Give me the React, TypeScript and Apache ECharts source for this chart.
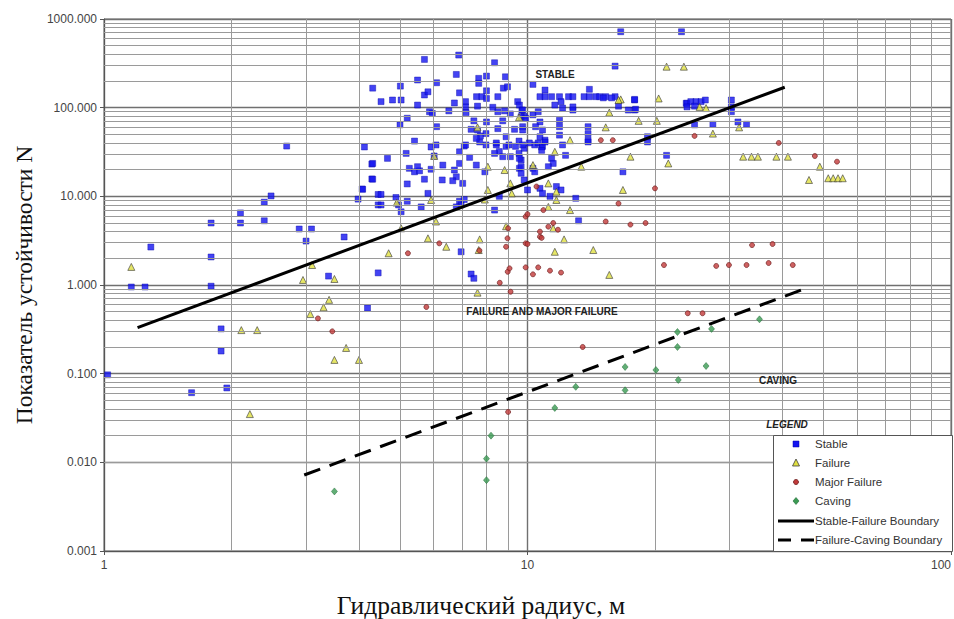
import React, { useEffect, useRef } from "react";
import * as echarts from "echarts";

// ---- Data (x = hydraulic radius, m ; y = stability number N) ----
const stablePoints: [number, number][] = [
  [1.02, 0.097], [1.16, 0.95], [1.25, 0.95], [1.29, 2.68], [1.61, 0.061], [1.79, 5.0], [1.79, 2.07],
  [1.79, 0.97], [1.89, 0.32], [1.89, 0.18], [1.95, 0.069], [2.1, 6.5], [2.1, 5.0], [2.39, 8.6],
  [2.39, 5.3], [2.48, 10.1], [2.7, 36.9], [2.89, 4.28], [3.09, 4.28], [3.0, 3.13], [3.39, 1.26],
  [3.69, 3.48], [4.19, 0.55], [4.44, 1.37], [3.98, 9.3], [4.07, 12.1], [4.29, 23.1], [4.29, 15.7],
  [4.44, 10.5], [4.44, 8.0],
  [4.12, 36], [4.31, 23.5], [4.67, 26.8], [4.31, 15.6], [4.08, 12.0], [4.51, 10.5], [4.51, 8.0],
  [4.89, 9.7], [4.96, 8.0], [5.03, 6.7], [5.2, 13.8], [5.2, 8.8], [5.61, 7.6], [5.82, 10.8],
  [5.71, 15.6], [5.26, 20.7], [5.41, 18.9], [5.56, 19.4], [5.5, 21.6], [5.92, 20.2], [5.17, 30.5],
  [5.92, 36], [6.02, 28.5], [6.31, 22.5], [6.29, 15.3], [6.72, 19.8], [6.79, 16.6], [6.91, 23.5],
  [6.91, 31.8], [7.09, 36.9], [7.3, 27.5], [7.57, 22.5], [7.03, 14.0], [6.66, 15.0], [7.71, 41],
  [8.44, 38], [8.58, 32], [8.9, 36.6], [8.74, 28], [7.93, 18.9], [9.57, 20.7], [9.66, 18.2],
  [9.66, 25.7], [9.55, 30.5], [9.37, 36.6], [9.82, 34.8], [6.91, 8.8], [6.97, 8.0], [7.09, 9.2],
  [6.79, 7.6], [8.36, 7.0], [8.58, 10], [6.97, 2.37], [7.36, 1.33], [7.47, 1.19], [8.36, 30.5], [9.11, 28],
  [6.88, 392], [5.71, 350], [8.36, 321], [6.79, 237], [5.5, 205], [6.1, 191], [7.67, 214], [7.67, 188],
  [8.0, 227], [8.87, 223], [4.31, 166], [5.01, 175], [6.91, 147], [8.0, 155], [8.77, 166], [8.97, 172],
  [5.71, 139], [5.82, 151], [4.8, 122], [5.03, 122], [4.51, 117], [7.58, 133], [7.8, 133], [8.0, 127],
  [7.14, 117], [7.14, 102], [8.51, 133], [9.48, 117], [6.72, 113], [5.5, 107], [6.52, 92], [5.87, 90],
  [5.96, 86], [7.16, 88], [7.62, 104], [8.28, 101], [8.51, 90], [8.83, 92], [9.11, 85], [9.7, 94],
  [9.82, 80], [5.2, 76], [5.0, 64], [6.1, 61], [7.47, 71], [8.0, 69], [8.74, 71], [7.36, 57], [7.62, 56],
  [7.74, 48], [7.98, 51], [7.57, 45], [8.51, 58], [8.9, 47], [9.32, 57], [9.74, 61], [5.41, 42],
  [6.08, 38], [7.98, 38], [8.44, 40], [9.04, 38], [9.55, 42], [7.14, 38],
  [16.6, 718], [23.1, 718], [16.1, 294], [10.3, 183], [11.0, 158], [14.0, 161],
  [10.7, 133], [11.0, 133], [11.4, 133], [11.9, 133], [12.5, 133], [12.8, 133], [13.6, 133], [14.0, 133],
  [14.5, 133], [14.8, 133], [15.3, 133], [16.1, 133], [15.1, 129], [15.8, 129],
  [17.9, 122], [23.7, 112], [11.6, 107], [12.0, 117], [12.1, 99], [12.8, 102], [12.8, 94], [16.4, 104],
  [17.3, 94], [17.9, 94], [18.0, 96], [17.9, 124],
  [11.9, 72], [11.9, 61], [11.9, 49], [13.9, 61], [13.9, 51], [13.9, 43], [19.2, 47], [19.2, 41], [12.1, 38],
  [9.57, 107], [9.74, 94], [9.66, 79], [9.9, 76], [10.3, 83], [10.6, 90], [10.7, 69], [10.45, 61],
  [10.85, 56], [10.7, 47], [9.74, 56], [11.0, 43], [10.4, 38], [10.8, 36],
  [9.74, 38], [10.1, 40], [10.6, 40], [10.85, 36.6], [10.8, 33], [11.0, 41], [12.3, 29], [11.4, 26.8],
  [11.5, 23.5], [11.2, 21.6], [10.3, 20.7], [10.4, 18.9], [9.66, 21.6], [9.57, 26.8], [9.82, 15.3],
  [10.0, 11.8], [10.7, 12.3], [10.85, 10.8], [11.3, 10.0], [11.7, 12.9], [12.0, 11.8], [13.0, 9.5],
  [13.9, 41], [16.8, 18.9], [21.3, 29], [13.2, 5.3],
  [23.8, 112], [24.3, 117], [25.0, 117], [25.7, 117], [26.3, 122], [23.8, 102], [24.8, 104],
  [30.3, 122], [30.3, 102], [30.3, 90], [24.8, 64], [27.4, 65], [31.4, 69], [32.9, 65],
];

const failurePoints: [number, number][] = [
  [1.16, 1.6], [2.95, 1.14], [3.1, 1.68], [3.5, 1.17], [2.11, 0.31], [2.3, 0.31], [3.07, 0.47],
  [3.3, 0.56], [3.4, 0.68], [3.73, 0.195], [3.5, 0.143], [4.0, 0.143], [2.21, 0.035],
  [4.91, 8.5], [5.92, 9.1], [6.02, 28.5], [8.06, 21.6], [8.83, 19.8], [8.06, 11.8], [7.93, 9.2],
  [9.11, 14], [9.18, 10.8], [8.9, 4.6], [6.08, 5.2], [5.03, 4.36], [5.82, 3.36], [6.43, 2.7],
  [7.67, 2.48], [7.71, 3.27], [4.7, 2.28], [7.62, 0.82], [9.55, 78], [7.62, 60],
  [16.6, 124], [20.4, 127], [21.3, 290], [23.4, 290], [15.6, 88], [18.3, 71], [20.2, 71], [15.3, 60],
  [12.6, 43], [16.4, 122], [25.5, 102], [26.4, 99], [31.6, 60], [27.4, 51],
  [21.5, 23.5], [17.5, 28], [13.4, 21.6], [11.6, 31.8], [10.3, 22.5], [11.2, 14.0], [11.7, 9.1],
  [12.6, 7.0], [16.8, 11.8], [11.6, 2.37], [14.3, 2.48], [12.2, 3.27], [11.5, 4.36], [15.6, 1.3],
  [11.2, 7.6], [11.7, 11.3],
  [32.3, 28], [33.8, 28], [35.0, 28], [38.7, 28], [41.2, 28],
  [49.0, 21.6], [46.2, 15.3], [51.3, 16], [52.7, 16], [54.1, 16], [55.5, 16],
];

const majorFailurePoints: [number, number][] = [
  [3.2, 0.42], [3.46, 0.3], [5.77, 0.565], [13.5, 0.2], [9.0, 0.037], [23.9, 0.48], [25.9, 0.48],
  [6.19, 2.95], [8.97, 3.36], [8.9, 2.7], [5.22, 2.28], [9.9, 5.9], [9.9, 2.95], [7.7, 2.45], [9.0, 4.36],
  [14.9, 43], [15.9, 43], [10.5, 12.9], [20.0, 12.3], [16.4, 8.3], [15.3, 5.2], [17.5, 4.8], [19.0, 5.0],
  [10.9, 7.0], [10.0, 6.3], [11.5, 5.0], [11.8, 4.2], [10.7, 4.0], [10.7, 3.5], [10.8, 3.4], [10.0, 2.9],
  [11.2, 4.55],
  [21.0, 1.68], [27.9, 1.64], [29.9, 1.68], [32.9, 1.68], [37.1, 1.77], [42.3, 1.68], [33.9, 2.82], [37.9, 2.9],
  [12.0, 1.38], [11.3, 1.45], [10.6, 1.58], [10.3, 1.32], [9.9, 1.58], [9.12, 0.84], [8.6, 1.06],
  [8.98, 1.41], [9.07, 1.54],
  [24.8, 48], [39.2, 40], [47.7, 28.5], [53.8, 24.6],
];

const cavingPoints: [number, number][] = [
  [3.5, 0.0047], [8.0, 0.0063], [8.0, 0.011], [8.2, 0.02], [11.6, 0.041], [13.0, 0.071], [17.0, 0.119],
  [17.0, 0.065], [20.1, 0.11], [22.7, 0.085], [22.6, 0.2], [22.6, 0.295], [26.4, 0.122], [27.2, 0.32],
  [35.3, 0.41],
];

const stableFailureBoundary: [number, number][] = [[1.2, 0.33], [40.5, 170]];
const failureCavingBoundary: [number, number][] = [[2.97, 0.0072], [44.4, 0.88]];

const xDecades = [1, 10];
const yDecades = [0.001, 0.01, 0.1, 1, 10, 100];
const minorMantissas = [2, 3, 4, 5, 6, 7, 8, 9];

const legendLabels = [
  "Stable",
  "Failure",
  "Major Failure",
  "Caving",
  "Stable-Failure Boundary",
  "Failure-Caving Boundary",
];

const xTitle = "Гидравлический радиус, м";
const yTitle = "Показатель устойчивости N";

const COLORS = {
  stable: "#1414f0",
  stableBorder: "#0000a8",
  failure: "#e0e040",
  failureBorder: "#3c3c3c",
  major: "#c23a3a",
  majorBorder: "#6a1a1a",
  caving: "#3a9a52",
  cavingBorder: "#1f6a35",
};

export default function App() {
  const ref = useRef<HTMLDivElement>(null);

  useEffect(() => {
    if (!ref.current) return;
    const chart = echarts.init(ref.current, null, { renderer: "svg" });

    const xMinor: number[] = [];
    xDecades.forEach((d) => minorMantissas.forEach((m) => xMinor.push(+(d * m).toPrecision(3))));
    const yMinor: number[] = [];
    yDecades.forEach((d) => minorMantissas.forEach((m) => yMinor.push(+(d * m).toPrecision(3))));

    const sans = '"Liberation Sans", Arial, sans-serif';
    const serif = '"Liberation Serif", "Times New Roman", serif';

    // Hand-built legend box (Excel style)
    const lgX = 773;
    const lgY = 435;
    const lgW = 179;
    const lgH = 116;
    const rowY = [444, 463, 482, 501, 521, 540];
    const iconCx = 796;
    const textX = 815;
    const legendText = legendLabels.map((t, i) => ({
      type: "text",
      x: textX,
      y: rowY[i],
      z: 101,
      style: { text: t, font: `11.5px ${sans}`, fill: "#333", align: "left", verticalAlign: "middle" },
    }));
    const legendGroup = [
      {
        type: "rect",
        z: 100,
        shape: { x: lgX + 0.5, y: lgY + 0.5, width: lgW, height: lgH },
        style: { fill: "#ffffff", stroke: "#555", lineWidth: 1 },
      },
      {
        type: "rect",
        z: 101,
        shape: { x: iconCx - 3, y: rowY[0] - 3, width: 6, height: 6 },
        style: { fill: COLORS.stable, stroke: COLORS.stableBorder, lineWidth: 0.5 },
      },
      {
        type: "polygon",
        z: 101,
        shape: { points: [[iconCx, rowY[1] - 4], [iconCx + 3.5, rowY[1] + 3], [iconCx - 3.5, rowY[1] + 3]] },
        style: { fill: COLORS.failure, stroke: COLORS.failureBorder, lineWidth: 0.8 },
      },
      {
        type: "circle",
        z: 101,
        shape: { cx: iconCx, cy: rowY[2], r: 2.5 },
        style: { fill: COLORS.major, stroke: COLORS.majorBorder, lineWidth: 0.8 },
      },
      {
        type: "polygon",
        z: 101,
        shape: { points: [[iconCx, rowY[3] - 3.5], [iconCx + 3, rowY[3]], [iconCx, rowY[3] + 3.5], [iconCx - 3, rowY[3]]] },
        style: { fill: COLORS.caving, stroke: COLORS.cavingBorder, lineWidth: 0.6 },
      },
      {
        type: "line",
        z: 101,
        shape: { x1: 778, y1: rowY[4], x2: 814, y2: rowY[4] },
        style: { stroke: "#000", lineWidth: 3 },
      },
      {
        type: "line",
        z: 101,
        shape: { x1: 778, y1: rowY[5], x2: 814, y2: rowY[5] },
        style: { stroke: "#000", lineWidth: 3, lineDash: [13, 10] },
      },
      ...legendText,
    ];

    chart.setOption({
      animation: false,
      backgroundColor: "#ffffff",
      grid: {
        left: 104,
        top: 19,
        right: 2,
        bottom: 68,
        show: true,
        borderColor: "#666",
        borderWidth: 1,
        backgroundColor: "#ffffff",
      },
      xAxis: {
        type: "log",
        logBase: 10,
        min: 1,
        max: 100,
        axisLine: { lineStyle: { color: "#555", width: 1 } },
        axisTick: { show: true, length: 4, lineStyle: { color: "#555" } },
        axisLabel: {
          color: "#444",
          fontFamily: sans,
          fontSize: 12,
          margin: 8,
          alignMaxLabel: "right",
          formatter: (v: number) => String(Math.round(v)),
        },
        splitLine: { show: true, lineStyle: { color: "#707070", width: 1.4 } },
      },
      yAxis: {
        type: "log",
        logBase: 10,
        min: 0.001,
        max: 1000,
        name: yTitle,
        nameLocation: "middle",
        nameGap: 64,
        nameRotate: 90,
        nameTextStyle: { fontFamily: serif, fontSize: 23.5, color: "#111" },
        axisLine: { lineStyle: { color: "#555", width: 1 } },
        axisTick: { show: true, length: 4, lineStyle: { color: "#555" } },
        axisLabel: {
          color: "#444",
          fontFamily: sans,
          fontSize: 12,
          margin: 7,
          formatter: (v: number) => v.toFixed(3),
        },
        splitLine: { show: true, lineStyle: { color: "#707070", width: 1.4 } },
      },
      graphic: [
        {
          type: "text",
          x: 481,
          y: 605,
          z: 100,
          style: { text: xTitle, font: `25.5px ${serif}`, fill: "#111", align: "center", verticalAlign: "middle" },
        },
        {
          type: "text",
          x: 555,
          y: 74,
          z: 100,
          style: { text: "STABLE", font: `bold 10px ${sans}`, fill: "#222", align: "center", verticalAlign: "middle" },
        },
        {
          type: "text",
          x: 542,
          y: 311,
          z: 100,
          style: {
            text: "FAILURE AND MAJOR FAILURE",
            font: `bold 10px ${sans}`,
            fill: "#222",
            align: "center",
            verticalAlign: "middle",
          },
        },
        {
          type: "text",
          x: 778,
          y: 380,
          z: 100,
          style: { text: "CAVING", font: `bold 10px ${sans}`, fill: "#222", align: "center", verticalAlign: "middle" },
        },
        {
          type: "text",
          x: 787,
          y: 424,
          z: 100,
          style: {
            text: "LEGEND",
            font: `italic bold 10px ${sans}`,
            fill: "#222",
            align: "center",
            verticalAlign: "middle",
          },
        },
        ...legendGroup,
      ],
      series: [
        {
          type: "line",
          data: [],
          z: 1,
          silent: true,
          showSymbol: false,
          markLine: {
            silent: true,
            symbol: "none",
            label: { show: false },
            emphasis: { disabled: true },
            lineStyle: { color: "#9a9a9a", width: 1, type: "solid" },
            data: [...xMinor.map((v) => ({ xAxis: v })), ...yMinor.map((v) => ({ yAxis: v }))],
          },
        },
        {
          name: legendLabels[0],
          type: "scatter",
          z: 3,
          symbol: "rect",
          symbolSize: 6,
          data: stablePoints,
          itemStyle: { color: COLORS.stable, borderColor: COLORS.stableBorder, borderWidth: 0.5 },
        },
        {
          name: legendLabels[1],
          type: "scatter",
          z: 4,
          symbol: "triangle",
          symbolSize: 7,
          data: failurePoints,
          itemStyle: { color: COLORS.failure, borderColor: COLORS.failureBorder, borderWidth: 0.8 },
        },
        {
          name: legendLabels[2],
          type: "scatter",
          z: 5,
          symbol: "circle",
          symbolSize: 5,
          data: majorFailurePoints,
          itemStyle: { color: COLORS.major, borderColor: COLORS.majorBorder, borderWidth: 0.8 },
        },
        {
          name: legendLabels[3],
          type: "scatter",
          z: 5,
          symbol: "diamond",
          symbolSize: [6, 7],
          data: cavingPoints,
          itemStyle: { color: COLORS.caving, borderColor: COLORS.cavingBorder, borderWidth: 0.6 },
        },
        {
          name: legendLabels[4],
          type: "line",
          z: 6,
          symbol: "none",
          data: stableFailureBoundary,
          lineStyle: { color: "#000", width: 3, type: "solid" },
          itemStyle: { color: "#000" },
        },
        {
          name: legendLabels[5],
          type: "line",
          z: 6,
          symbol: "none",
          data: failureCavingBoundary,
          lineStyle: { color: "#000", width: 3, type: [17, 10] },
          itemStyle: { color: "#000" },
        },
      ],
    });

    return () => chart.dispose();
  }, []);

  return (
    <div
      ref={ref}
      style={{ position: "fixed", left: 0, top: 0, width: 954, height: 619, background: "#fff" }}
    />
  );
}
